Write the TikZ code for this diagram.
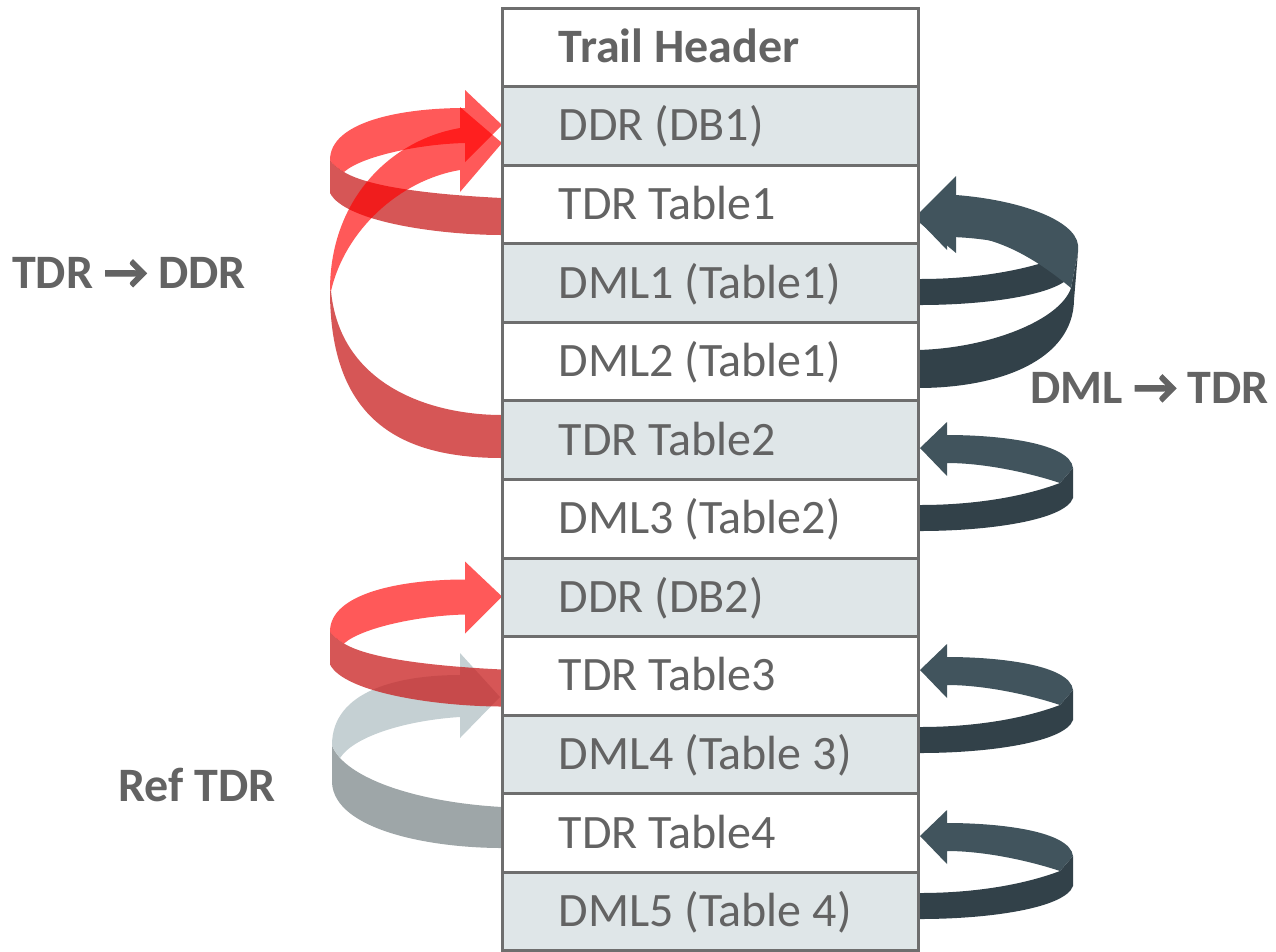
\documentclass[tikz,border=0pt]{standalone}
\usepackage{fontspec}
\setmainfont{Carlito}
\newfontfamily\arrowfont[FakeBold=2.5]{Carlito Bold}
\definecolor{txtgray}{RGB}{99,99,99}
\definecolor{cellfill}{RGB}{223,230,232}
\definecolor{gridline}{RGB}{110,110,110}
\definecolor{slatelight}{RGB}{65,84,93}
\definecolor{slatedark}{RGB}{50,65,73}
\definecolor{greylight}{RGB}{197,208,211}
\definecolor{greydark}{RGB}{158,166,168}
\definecolor{redtopc}{RGB}{255,0,0}
\definecolor{redsidec}{RGB}{200,30,30}

% small left loop: TDR row -> DDR row just above
\newcommand\ddrloop[1]{%
  \begin{scope}[shift={(0,#1)}]
    \fill[redside] (502,198) .. controls (440,195) and (370,188) .. (344,172)
      .. controls (338,168) and (332,164) .. (330,160) -- (330,193)
      .. controls (345,222) and (440,235) .. (502,235) -- cycle;
    \fill[redtop] (330,160) .. controls (330,122) and (400,108) .. (465,108)
      -- (465,90) -- (502,125) -- (465,162) -- (465,143)
      .. controls (420,144) and (362,156) .. (344,172)
      .. controls (338,168) and (332,164) .. (330,160) -- cycle;
  \end{scope}}

% right loop: DML row -> TDR row, tip at (920,#1)
\newcommand\dmlloop[1]{%
  \begin{scope}[shift={(0,#1)}]
    \fill[slateside] (1073,20) -- (1073,50) .. controls (1065,72) and (990,83) .. (920,83)
      -- (920,57) .. controls (970,57) and (1020,50) .. (1060,35) -- cycle;
    \fill[slatetop] (920,0) -- (947,-26) -- (947,-13)
      .. controls (1000,-13) and (1070,-5) .. (1073,20) -- (1060,35)
      .. controls (1030,25) and (985,15) .. (947,15) -- (947,28) -- cycle;
  \end{scope}}

\begin{document}
\begin{tikzpicture}[x=1pt,y=-1pt,
  cell/.style={rectangle, draw=gridline, line width=3pt, minimum width=416pt,
    minimum height=78.58pt, inner sep=0pt},
  celltext/.style={anchor=base west, inner sep=0pt, text=txtgray,
    font=\fontsize{48}{57}\selectfont},
  lbl/.style={anchor=base west, inner sep=0pt, text=txtgray,
    font=\fontsize{48}{57}\selectfont\bfseries},
  redtop/.style={fill=redtopc, fill opacity=0.65},
  redside/.style={fill=redsidec, fill opacity=0.75},
  greytop/.style={fill=greylight},
  greyside/.style={fill=greydark},
  slatetop/.style={fill=slatelight},
  slateside/.style={fill=slatedark}]

\useasboundingbox (0,0) rectangle (1276,951);

% Ref TDR loop (grey)
\fill[greyside] (502,807) .. controls (430,803) and (365,785) .. (340,758)
  .. controls (336,753) and (333,749) .. (332,745) -- (332,783)
  .. controls (335,830) and (430,848) .. (502,848) -- cycle;
\fill[greytop] (332,745) .. controls (332,690) and (400,675) .. (460,675)
  -- (460,653) -- (500,697) -- (460,738) -- (460,717)
  .. controls (410,720) and (355,735) .. (340,758)
  .. controls (336,753) and (333,749) .. (332,745) -- cycle;

% TDR -> DDR loops (red)
\ddrloop{0}
\ddrloop{471.5}
% long loop from TDR Table2 up to DDR (DB1)
\fill[redside] (331,291) .. controls (340,385) and (430,415) .. (502,415)
  -- (502,458) .. controls (400,458) and (330,420) .. (330,291) -- cycle;
\fill[redtop] (330,290) .. controls (330,200) and (390,140) .. (460,128)
  -- (460,107) -- (502,143) -- (460,192) -- (460,170)
  .. controls (400,180) and (345,230) .. (331,291) -- cycle;

% DML -> TDR loops (slate)
\dmlloop{222}
% long loop from DML2 up to TDR Table1
\fill[slateside] (1078,252) -- (1074,300) .. controls (1073,360) and (1000,388) .. (918,388)
  -- (918,350) .. controls (990,348) and (1060,320) .. (1071,288) -- cycle;
\fill[slatetop] (914,218) -- (956,176) -- (956,195)
  .. controls (1020,200) and (1075,220) .. (1078,245) -- (1078,252) -- (1071,288)
  .. controls (1040,262) and (1000,236) .. (956,235) -- (956,253) -- cycle;
\dmlloop{448}
\dmlloop{670}
\dmlloop{836}

% trail records
\foreach \i/\t/\f in {
  0/{\bfseries Trail Header}/white,
  1/DDR (DB1)/cellfill,
  2/TDR Table1/white,
  3/DML1 (Table1)/cellfill,
  4/DML2 (Table1)/white,
  5/TDR Table2/cellfill,
  6/DML3 (Table2)/white,
  7/DDR (DB2)/cellfill,
  8/TDR Table3/white,
  9/DML4 (Table 3)/cellfill,
  10/TDR Table4/white,
  11/DML5 (Table 4)/cellfill}{
  \node[cell, fill=\f] (r\i) at (710,{8+78.58*(\i+0.5)}) {};
  \node[celltext] (t\i) at ([xshift=58pt,yshift=-15pt]r\i.west) {\t};
}

% side labels
\node[lbl] (labddr) at (12,288) {TDR {\arrowfont →} DDR};
\node[lbl] (labdml) at (1030,403) {DML {\arrowfont →} TDR};
\node[lbl] (labref) at (118,801) {Ref TDR};
\end{tikzpicture}
\end{document}
